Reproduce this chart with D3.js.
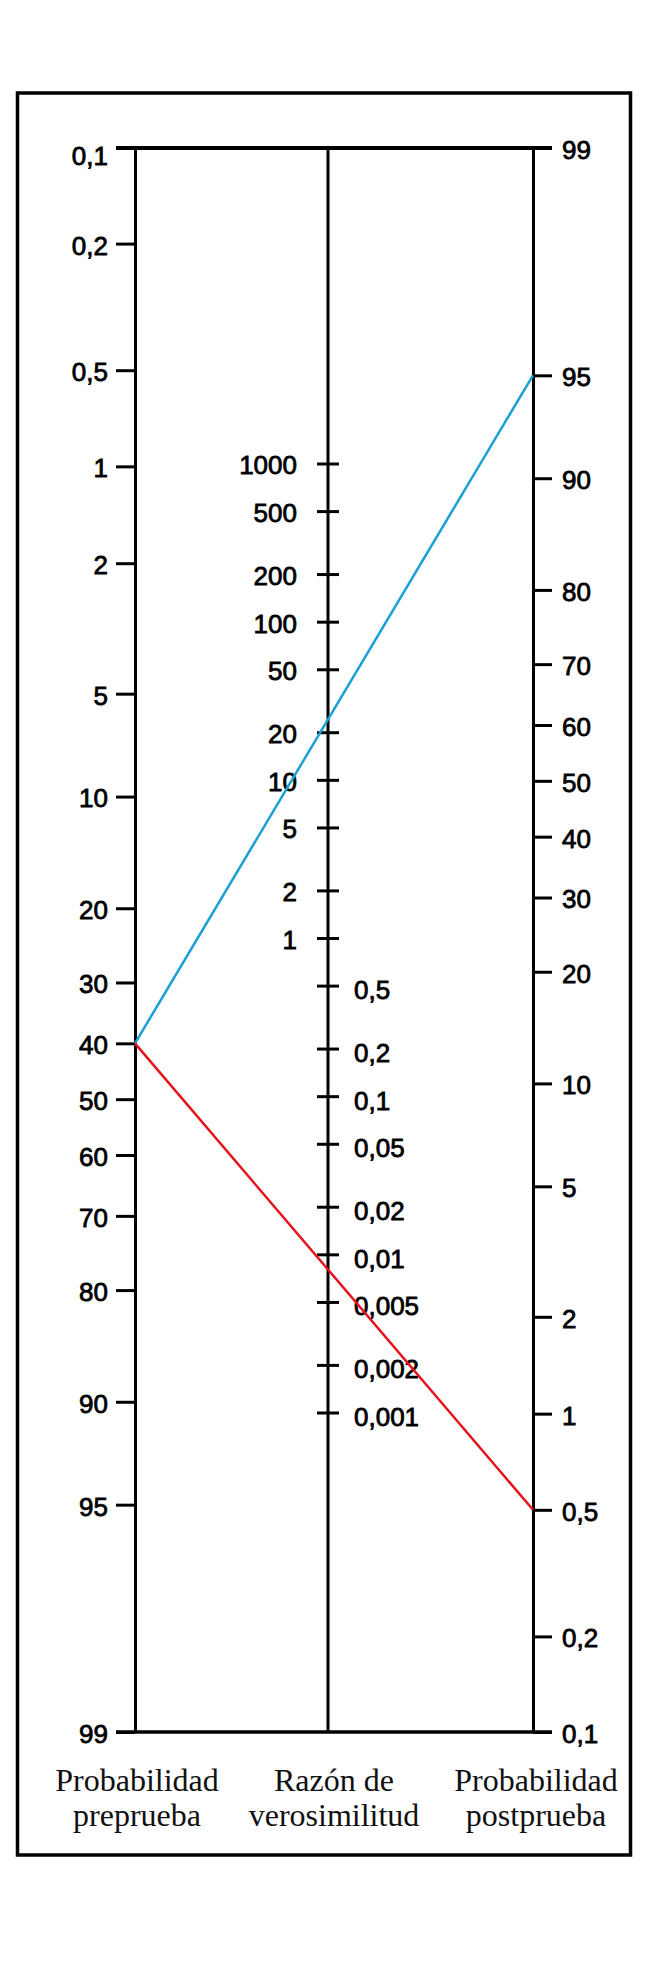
<!DOCTYPE html>
<html>
<head>
<meta charset="utf-8">
<script src="https://cdn.jsdelivr.net/npm/d3@7"></script>
<style>
  html, body { margin: 0; padding: 0; background: #fff; }
  svg { display: block; }
</style>
</head>
<body>
<svg id="chart" width="653" height="1963"></svg>
<script>
// ---- data ----
const preTicks  = [0.1, 0.2, 0.5, 1, 2, 5, 10, 20, 30, 40, 50, 60, 70, 80, 90, 95, 99];
const lrTicks   = [1000, 500, 200, 100, 50, 20, 10, 5, 2, 1, 0.5, 0.2, 0.1, 0.05, 0.02, 0.01, 0.005, 0.002, 0.001];
const postTicks = [99, 95, 90, 80, 70, 60, 50, 40, 30, 20, 10, 5, 2, 1, 0.5, 0.2, 0.1];
const pretest = 40;
const postPositive = 95;
const postNegative = 0.5;
const axisTitles = [
  ["Probabilidad", "preprueba"],
  ["Razón de", "verosimilitud"],
  ["Probabilidad", "postprueba"]
];

// ---- layout ----
const W = 653, H = 1963;
const xL = 135, xM = 328, xR = 533;
const yTop = 148, yBot = 1732;
const tick = 19, midTick = 11;
const numFont = "'Liberation Sans', Arial, Helvetica, sans-serif";
const numSize = 26;
const fmt = v => String(v).replace(".", ",");
const logit = p => Math.log(p / (100 - p));

const yPre  = d3.scaleLinear().domain([logit(0.1), logit(99)]).range([yTop, yBot]);
const yPost = d3.scaleLinear().domain([logit(99), logit(0.1)]).range([yTop, yBot]);
const yLR   = d3.scaleLog().domain([1000, 0.001]).range([464, 1413]);

const svg = d3.select("#chart");
svg.append("rect").attr("width", W).attr("height", H).attr("fill", "#fff");

// frame
svg.append("rect")
  .attr("x", 17.5).attr("y", 93).attr("width", 613).attr("height", 1762)
  .attr("fill", "none").attr("stroke", "#000").attr("stroke-width", 3.5);

// left axis (pretest)
const leftAxis = d3.axisLeft(yPre)
  .tickValues(preTicks.map(logit))
  .tickFormat((d, i) => fmt(preTicks[i]))
  .tickSizeInner(tick).tickSizeOuter(0).tickPadding(8);
const gL = svg.append("g").attr("transform", `translate(${xL},0)`).call(leftAxis);

// right axis (posttest)
const rightAxis = d3.axisRight(yPost)
  .tickValues(postTicks.map(logit))
  .tickFormat((d, i) => fmt(postTicks[i]))
  .tickSizeInner(tick).tickSizeOuter(0).tickPadding(10);
const gR = svg.append("g").attr("transform", `translate(${xR},0)`).call(rightAxis);

[gL, gR].forEach(g => {
  g.select(".domain").attr("stroke", "#000").attr("stroke-width", 3);
  g.selectAll(".tick line").attr("stroke", "#000").attr("stroke-width", 3);
  g.selectAll(".tick text")
    .attr("fill", "#000").attr("font-family", numFont).attr("font-size", numSize)
    .attr("stroke", "#000").attr("stroke-width", 0.8)
    .attr("dy", "0.4em");
});
// the top-left label sits just under the top line
gL.selectAll(".tick text").filter((d, i) => i === 0).attr("dy", "0.65em");

// middle axis (likelihood ratio)
svg.append("line")
  .attr("x1", xM).attr("x2", xM).attr("y1", yPre(logit(0.1))).attr("y2", yPre(logit(99)))
  .attr("stroke", "#000").attr("stroke-width", 3);

const gM = svg.append("g");
const mt = gM.selectAll("g.lr").data(lrTicks).join("g").attr("class", "lr")
  .attr("transform", d => `translate(${xM},${yLR(d)})`);
mt.append("line").attr("x1", -midTick).attr("x2", midTick)
  .attr("stroke", "#000").attr("stroke-width", 3);
mt.append("text")
  .attr("x", d => d >= 1 ? -31 : 26)
  .attr("dy", d => d >= 1 ? "0.4em" : "0.5em")
  .attr("text-anchor", d => d >= 1 ? "end" : "start")
  .attr("font-family", numFont).attr("font-size", numSize)
  .attr("fill", "#000").attr("stroke", "#000").attr("stroke-width", 0.8)
  .text(d => fmt(d));

// top and bottom horizontal lines
svg.append("line")
  .attr("x1", xL - tick).attr("x2", xR + tick)
  .attr("y1", yPre(logit(0.1))).attr("y2", yPost(logit(99)))
  .attr("stroke", "#000").attr("stroke-width", 4);
svg.append("line")
  .attr("x1", xL - tick).attr("x2", xR + tick)
  .attr("y1", yPre(logit(99))).attr("y2", yPost(logit(0.1)))
  .attr("stroke", "#000").attr("stroke-width", 3.5);

// example lines
svg.append("line")
  .attr("x1", xL).attr("y1", yPre(logit(pretest)))
  .attr("x2", xR).attr("y2", yPost(logit(postPositive)))
  .attr("stroke", "#1aa0d2").attr("stroke-width", 2.5);
svg.append("line")
  .attr("x1", xL).attr("y1", yPre(logit(pretest)))
  .attr("x2", xR).attr("y2", yPost(logit(postNegative)))
  .attr("stroke", "#e3141c").attr("stroke-width", 2.5);

// axis titles
const titleX = [xL + 2, xM + 6, xR + 3];
axisTitles.forEach((lines, i) => {
  const t = svg.append("text")
    .attr("x", titleX[i]).attr("y", 1791)
    .attr("text-anchor", "middle")
    .attr("font-family", "'Liberation Serif', 'Times New Roman', serif")
    .attr("font-size", 32).attr("fill", "#111");
  lines.forEach((s, j) => {
    t.append("tspan").attr("x", titleX[i]).attr("dy", j === 0 ? 0 : 35).text(s);
  });
});
</script>
</body>
</html>
